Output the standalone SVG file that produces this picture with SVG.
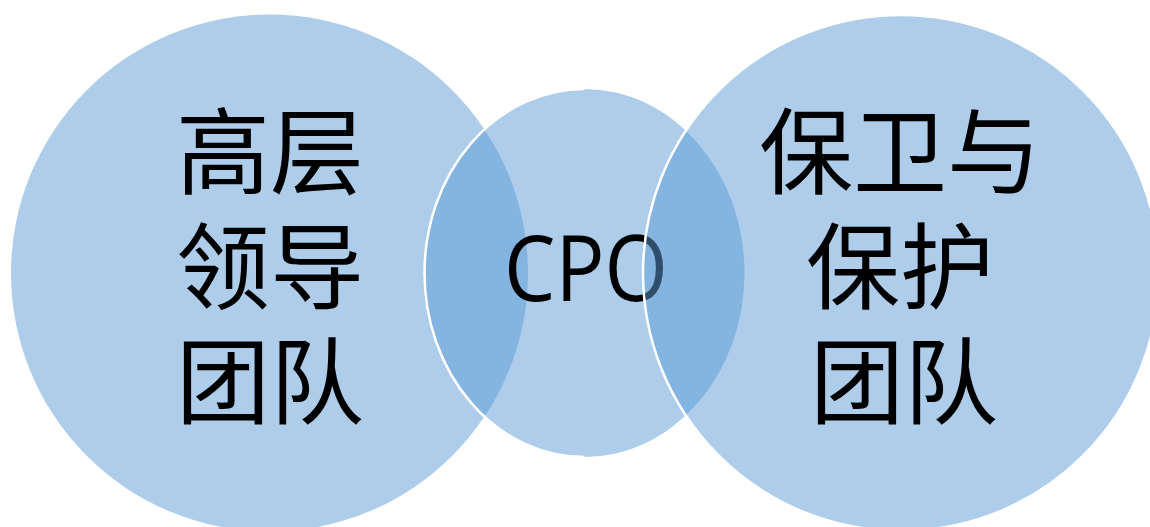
<svg xmlns="http://www.w3.org/2000/svg" width="1150" height="527" viewBox="0 0 1150 527">
  <style>
    .shape { fill: #5B9BD5; fill-opacity: 0.5; }
    .edge { fill: none; stroke: #FFFFFF; stroke-width: 2.5; }
    .cjk { font-family: "Noto Sans CJK SC", sans-serif; font-size: 94px; fill: #000000; text-anchor: middle; }
    .latin { font-family: "Open Sans", "Liberation Sans", sans-serif; font-size: 91px; fill: #000000; text-anchor: middle; }
  </style>
  <rect width="1150" height="527" fill="#FFFFFF"/>
  <g id="node-leadership">
    <circle class="shape" cx="269.5" cy="273" r="258.5"/>
    <text class="cjk"><tspan x="270" y="187">高层</tspan><tspan x="270" y="302">领导</tspan><tspan x="270" y="417">团队</tspan></text>
  </g>
  <g id="node-cpo">
    <ellipse class="shape" cx="584.5" cy="273" rx="160" ry="184"/>
    <path class="edge" d="M 584.5 89 A 160 184 0 0 0 584.5 457"/>
    <text class="latin" x="586" y="301" textLength="164" lengthAdjust="spacingAndGlyphs">CPO</text>
  </g>
  <g id="node-protection">
    <circle class="shape" cx="901" cy="273" r="258"/>
    <circle class="edge" cx="901" cy="273" r="258"/>
    <text class="cjk"><tspan x="900" y="187">保卫与</tspan><tspan x="900" y="302">保护</tspan><tspan x="904" y="417">团队</tspan></text>
  </g>
  <g id="connectors"/>
</svg>
